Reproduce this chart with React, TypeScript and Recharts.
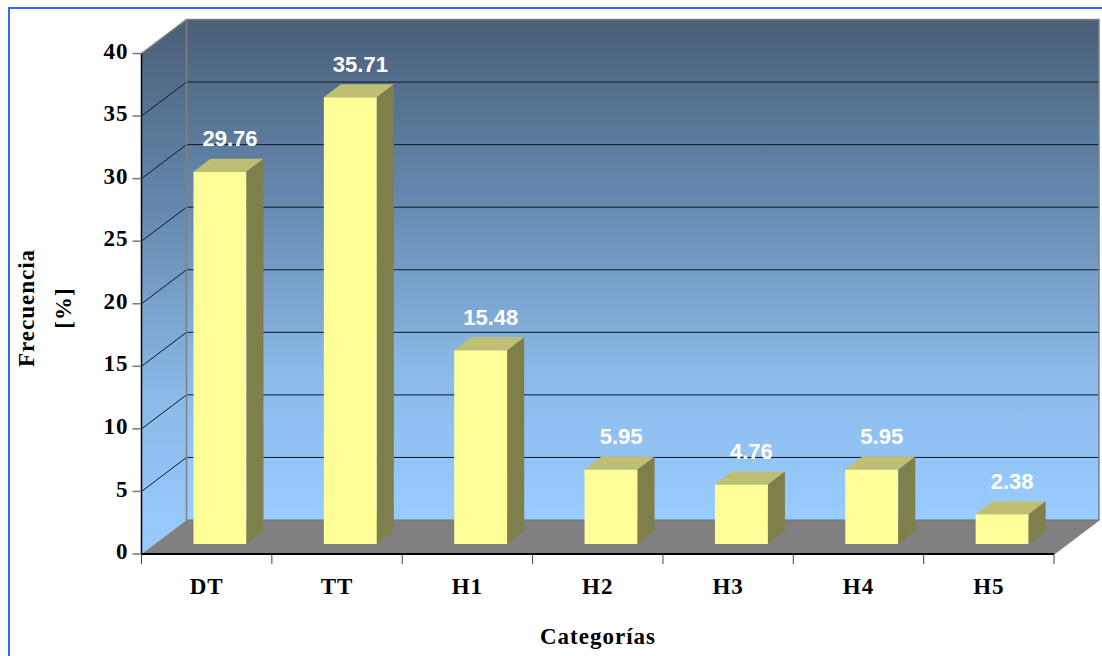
import { BarChart, Bar, XAxis, YAxis, LabelList, Label } from 'recharts';

const categories = ['DT', 'TT', 'H1', 'H2', 'H3', 'H4', 'H5'];
const frecuencia = [29.76, 35.71, 15.48, 5.95, 4.76, 5.95, 2.38];
const yTicks = [0, 5, 10, 15, 20, 25, 30, 35, 40];

const data = categories.map((name, i) => ({ name, value: frecuencia[i] }));

const W = 1102;
const H = 656;
const margin = { top: 53.5, right: 48, bottom: 62, left: 41.5 };
const plot = { left: 141.5, right: 1054, top: 53.5, bottom: 554 };
// depth of the fake 3d box and of each bar
const box = { dx: 45, dy: -34 };
const barDepth = { dx: 17, dy: -13 };
const barShift = { dx: 13, dy: -10 };

const axisFont = {
  fontFamily: '"Liberation Serif", serif',
  fontWeight: 'bold',
  fontSize: 23,
  letterSpacing: 1,
  fill: '#000',
};

function Walls() {
  const { left, right, top, bottom } = plot;
  const { dx, dy } = box;
  const yOf = (v: number) => bottom - ((bottom - top) * v) / 40;
  return (
    <g>
      <defs>
        <linearGradient id="wall" x1="0" y1="0" x2="0" y2="1">
          <stop offset="0%" stopColor="#4a5f78" />
          <stop offset="35%" stopColor="#6488ad" />
          <stop offset="70%" stopColor="#8bb9e8" />
          <stop offset="100%" stopColor="#99ccff" />
        </linearGradient>
      </defs>
      <polygon
        points={`${left},${top} ${left + dx},${top + dy} ${left + dx},${bottom + dy} ${left},${bottom}`}
        fill="url(#wall)"
      />
      <rect x={left + dx} y={top + dy} width={right - left} height={bottom - top} fill="url(#wall)" />
      <polygon
        points={`${left},${bottom} ${left + dx},${bottom + dy} ${right + dx},${bottom + dy} ${right},${bottom}`}
        fill="#808080"
      />
      {yTicks
        .filter((v) => v > 0 && v < 40)
        .map((v) => (
          <g key={v} stroke="#0c1a26" strokeWidth={1} fill="none">
            <line x1={left} y1={yOf(v)} x2={left + dx} y2={yOf(v) + dy} />
            <line x1={left + dx} y1={yOf(v) + dy} x2={right + dx} y2={yOf(v) + dy} />
          </g>
        ))}
      <polyline
        points={`${left},${top} ${left + dx},${top + dy} ${right + dx},${top + dy} ${right + dx},${bottom + dy} ${right},${bottom}`}
        fill="none"
        stroke="#808080"
        strokeWidth={1.5}
      />
      <line x1={left + dx} y1={top + dy} x2={left + dx} y2={bottom + dy} stroke="#808080" strokeWidth={1.5} />
      <line x1={left + dx} y1={bottom + dy} x2={right + dx} y2={bottom + dy} stroke="#707070" />
    </g>
  );
}

// category label, with tick marks on the edges of the slot
function CategoryTick(props: any) {
  const { x, payload, index } = props;
  const slot = (plot.right - plot.left) / categories.length;
  const tickAt = (tx: number) => (
    <line x1={tx} y1={plot.bottom} x2={tx} y2={plot.bottom + 10} stroke="#444" strokeWidth={1} />
  );
  return (
    <g>
      {tickAt(x - slot / 2)}
      {index === categories.length - 1 && tickAt(x + slot / 2)}
      <text x={x} y={plot.bottom + 40} textAnchor="middle" {...axisFont}>
        {payload.value}
      </text>
    </g>
  );
}

function Bar3D(props: any) {
  const { x, y, width, height } = props;
  const fx = x + barShift.dx;
  const fy = y + barShift.dy;
  const { dx, dy } = barDepth;
  return (
    <g>
      <rect x={fx} y={fy} width={width} height={height} fill="#ffff99" />
      <polygon
        points={`${fx},${fy} ${fx + dx},${fy + dy} ${fx + width + dx},${fy + dy} ${fx + width},${fy}`}
        fill="#bfbf73"
      />
      <polygon
        points={`${fx + width},${fy} ${fx + width + dx},${fy + dy} ${fx + width + dx},${fy + height + dy} ${fx + width},${fy + height}`}
        fill="#7f7f4c"
      />
    </g>
  );
}

function ValueLabel(props: any) {
  const { x, y, width, value } = props;
  return (
    <text
      x={x + width / 2 + 23}
      y={y - 35.5}
      textAnchor="middle"
      fill="#ffffff"
      fontFamily='"Liberation Sans", sans-serif'
      fontWeight="bold"
      fontSize={22}
    >
      {value.toFixed(2)}
    </text>
  );
}

function YTitle({ text, x }: { text: string; x: number }) {
  const y = 308;
  return (
    <text x={x} y={y} textAnchor="middle" dominantBaseline="middle" transform={`rotate(-90 ${x} ${y})`} {...axisFont}>
      {text}
    </text>
  );
}

export default function App() {
  return (
    <div style={{ position: 'absolute', left: 0, top: 0, width: W, height: H, overflow: 'hidden', background: '#fff' }}>
      <div
        style={{
          position: 'absolute',
          left: 8,
          top: 7,
          width: W,
          height: H,
          borderLeft: '2px solid #3366ff',
          borderTop: '2px solid #3366ff',
        }}
      />
      <div style={{ position: 'absolute', left: 0, top: 0 }}>
        <BarChart width={W} height={H} data={data} margin={margin} barSize={53} barCategoryGap={0}>
          <Walls />
          <XAxis
            dataKey="name"
            height={40}
            interval={0}
            axisLine={{ stroke: '#000', strokeWidth: 2 }}
            tickLine={false}
            tick={CategoryTick}
          >
            <Label
              content={() => (
                <text x={598} y={644} textAnchor="middle" {...axisFont}>
                  Categorías
                </text>
              )}
            />
          </XAxis>
          <YAxis
            width={100}
            domain={[0, 40]}
            ticks={yTicks}
            interval={0}
            axisLine={{ stroke: '#000', strokeWidth: 1.5 }}
            tickLine={{ stroke: '#777', strokeWidth: 1.5 }}
            tickSize={9}
            tickMargin={4}
            tick={{ ...axisFont, dy: -3 }}
          >
            <Label content={() => <YTitle text="Frecuencia" x={29} />} />
            <Label content={() => <YTitle text="[%]" x={66} />} />
          </YAxis>
          <Bar dataKey="value" isAnimationActive={false} shape={Bar3D}>
            <LabelList dataKey="value" content={ValueLabel} />
          </Bar>
        </BarChart>
      </div>
    </div>
  );
}
